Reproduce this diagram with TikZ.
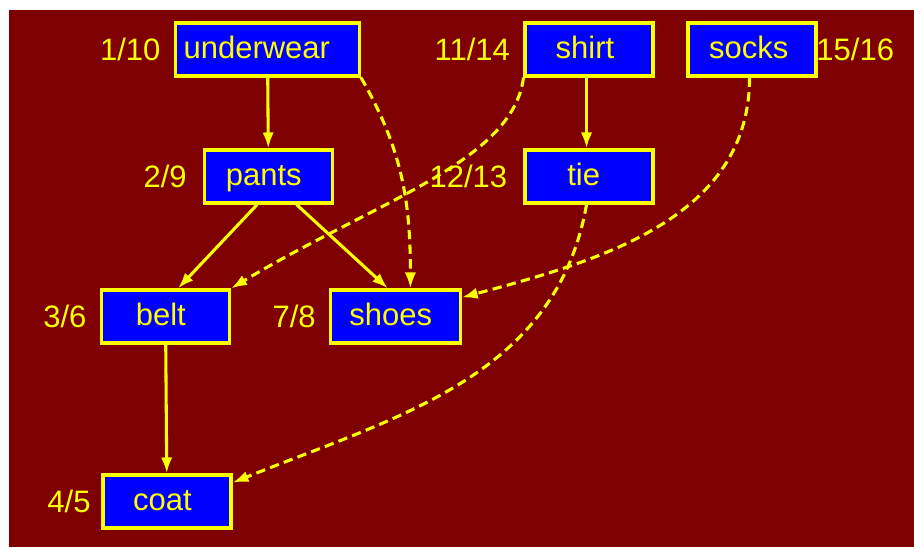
\documentclass[tikz,border=0pt]{standalone}
\usepackage{fontspec}
\setmainfont{Liberation Sans}
\usetikzlibrary{arrows.meta}
\definecolor{bgRed}{RGB}{127,0,0}
\definecolor{boxBlue}{RGB}{0,0,255}
\definecolor{inkYellow}{RGB}{255,255,0}

\begin{document}
\begin{tikzpicture}[x=0.75pt, y=-0.75pt, >={Latex[length=12pt,width=8.5pt]},
      every node/.style={font=\fontsize{23.25}{28}\selectfont},
      item/.style={rectangle, draw=inkYellow, fill=boxBlue, text=inkYellow,
                   line width=2.3pt, minimum width=96pt, minimum height=39.75pt,
                   inner xsep=14pt, text height=16pt, text depth=2.5pt},
      every label/.style={text=inkYellow, inner sep=0pt},
      label distance=10pt,
      dep/.style={->, draw=inkYellow, line width=2.3pt},
      weak/.style={dep, dash pattern=on 7pt off 4pt}]
      \useasboundingbox (0,0) rectangle (914,547);
      \fill[bgRed] (9,10) rectangle (914,547);
      % garments, top row first
      \node[item, inner xsep=6pt, label={left:1/10}] (underwear) at (267.5,49.5) {underwear\hspace*{16pt}};
      \node[item, label={left:11/14}] (shirt) at (589,49.5) {shirt\hspace*{6pt}};
      \node[item, label={[label distance=-1pt]right:15/16}] (socks) at (752,49.5) {socks\hspace*{5pt}};
      \node[item, label={[label distance=12pt]left:2/9}] (pants) at (268.5,176.5) {pants\hspace*{7pt}};
      \node[item, label={[label distance=12pt]left:12/13}] (tie) at (589,176.5) {tie\hspace*{8pt}};
      \node[item, label={left:3/6}] (belt) at (165.5,316.5) {belt\hspace*{7pt}};
      \node[item, label={left:7/8}] (shoes) at (395.5,316.5) {shoes\hspace*{7pt}};
      \node[item, label={[label distance=8pt]left:4/5}] (coat) at (167,501.5) {coat\hspace*{7pt}};
      % tree edges
      \draw[dep] (underwear) -- (pants);
      \draw[dep] (shirt.-95) -- (tie.95);
      \draw[dep] (pants.-112) -- (belt.66);
      \draw[dep] (pants.-45) -- (shoes.105);
      \draw[dep] (belt) -- (coat);
      % other edges
      \draw[weak] (underwear.south east) to[out=-60, in=90] (shoes.62);
      \draw[weak] (shirt.south west) to[out=-97, in=31, out looseness=0.6, in looseness=1.2] (belt.north east);
      \draw[weak] (socks.-95) to[out=-90, in=15] (shoes.16);
      \draw[weak] (tie.-95) to[out=-100, in=22] (coat.16);
    \end{tikzpicture}
\end{document}
